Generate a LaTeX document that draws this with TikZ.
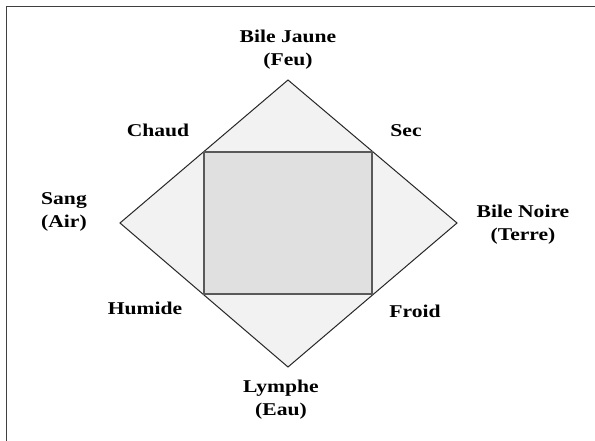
\documentclass[tikz,border=0pt]{standalone}
\usepackage{fontspec}
\setmainfont{Liberation Serif}[FakeStretch=1.2]
\begin{document}
\begin{tikzpicture}[x=1pt,y=-1pt,
  lbl/.style={font=\fontsize{18}{23}\selectfont\bfseries, align=center, inner sep=0pt},
  frame/.style={draw=black!75, line width=1.5pt},
  diam/.style={draw=black!85, fill=black!5, line width=1pt, line join=miter},
  sq/.style={draw=black!65, fill=black!12, line width=1.5pt}]
\useasboundingbox (0,0) rectangle (595,441);
\fill[white] (0,0) rectangle (595,441);
\draw[frame] (6.5,441) -- (6.5,6.5) -- (595,6.5);
\coordinate (T) at (288,80);
\coordinate (R) at (457,223);
\coordinate (B) at (288,367);
\coordinate (L) at (120,223);
\draw[diam] (T) -- (R) -- (B) -- (L) -- cycle;
\coordinate (c1) at (204,152);
\coordinate (c2) at (372,152);
\coordinate (c3) at (372,294);
\coordinate (c4) at (204,294);
\draw[sq] (c1) -- (c2) -- (c3) -- (c4) -- cycle;
\node[lbl] (feu) at (288,50) {Bile Jaune\\(Feu)};
\node[lbl] (chaud) at (158,130) {Chaud};
\node[lbl] (sec) at (406,131) {Sec};
\node[lbl, align=left] (air) at (64,212) {Sang\\(Air)};
\node[lbl] (terre) at (523,225) {Bile Noire\\(Terre)};
\node[lbl] (humide) at (145,308) {Humide};
\node[lbl] (froid) at (415,311) {Froid};
\node[lbl] (eau) at (281,400) {Lymphe\\(Eau)};
\end{tikzpicture}
\end{document}
